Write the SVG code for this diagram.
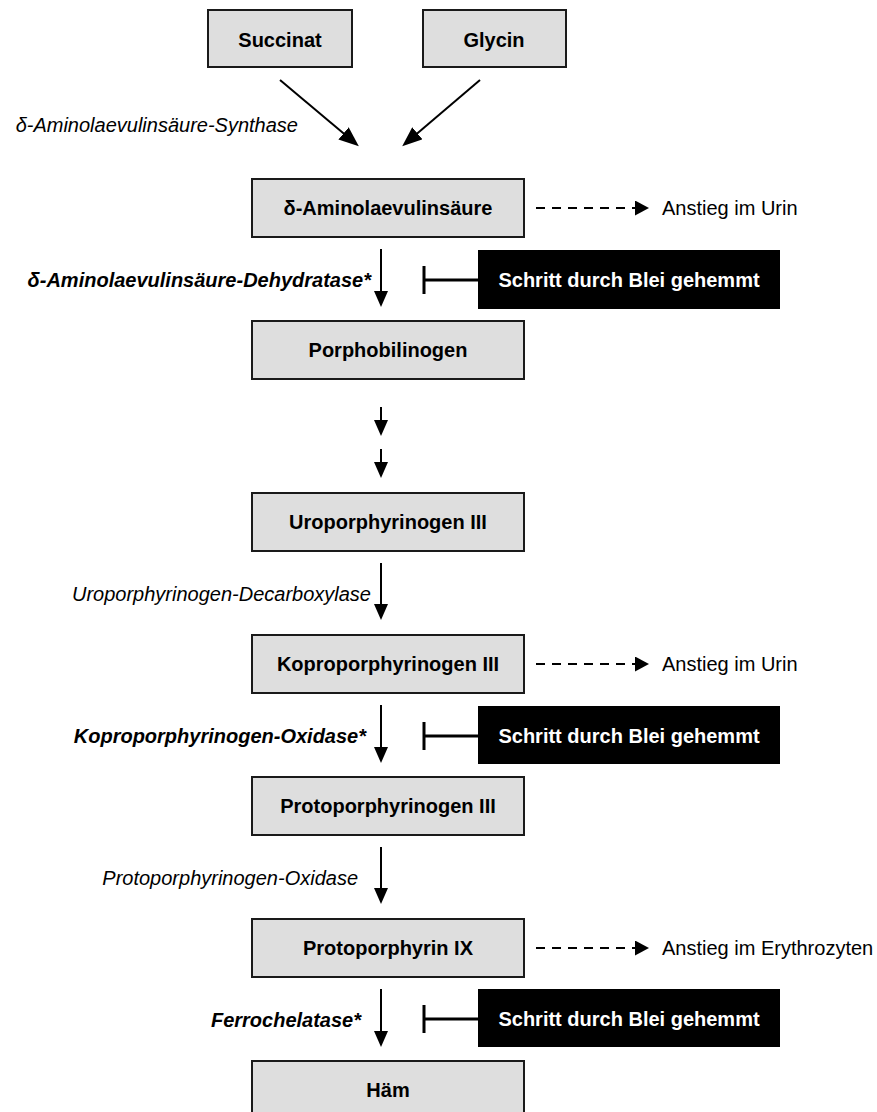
<svg xmlns="http://www.w3.org/2000/svg" width="877" height="1112" viewBox="0 0 877 1112">
<defs>
<style>
.box{fill:#dedede;stroke:#1a1a1a;stroke-width:2}
.blk{fill:#000}
.bt{font-family:"Liberation Sans",Arial,sans-serif;font-size:20px;font-weight:bold;fill:#000;text-anchor:middle}
.wt{font-family:"Liberation Sans",Arial,sans-serif;font-size:20px;font-weight:bold;fill:#fff;text-anchor:middle}
.lab{font-family:"Liberation Sans",Arial,sans-serif;font-size:20px;font-style:italic;fill:#000;text-anchor:end}
.labb{font-family:"Liberation Sans",Arial,sans-serif;font-size:20px;font-style:italic;font-weight:bold;fill:#000;text-anchor:end}
.note{font-family:"Liberation Sans",Arial,sans-serif;font-size:20px;fill:#000}
.ln{stroke:#000;stroke-width:2;fill:none}
.dash{stroke:#000;stroke-width:2;fill:none;stroke-dasharray:9 7}
.inh{stroke:#000;stroke-width:3;fill:none}
</style>
<marker id="ah" markerUnits="userSpaceOnUse" markerWidth="16" markerHeight="14" refX="11" refY="7" orient="auto" viewBox="0 0 16 14">
<path d="M0,0 L16,7 L0,14 z" fill="#000"/>
</marker>
<marker id="ahd" markerUnits="userSpaceOnUse" markerWidth="20" markerHeight="16" refX="15" refY="8" orient="auto" viewBox="0 0 20 16">
<path d="M0,0 L20,8 L0,16 z" fill="#000"/>
</marker>
<marker id="ahs" markerUnits="userSpaceOnUse" markerWidth="14" markerHeight="15" refX="9" refY="7.5" orient="auto" viewBox="0 0 14 15">
<path d="M0,0 L14,7.5 L0,15 z" fill="#000"/>
</marker>
</defs>

<g id="connectors">
<line class="ln" x1="280" y1="80" x2="355" y2="143" marker-end="url(#ahd)"/>
<line class="ln" x1="480" y1="80" x2="406" y2="143" marker-end="url(#ahd)"/>
<line class="ln" x1="381" y1="249" x2="381" y2="302" marker-end="url(#ah)"/>
<line class="ln" x1="381" y1="407" x2="381" y2="431" marker-end="url(#ah)"/>
<line class="ln" x1="381" y1="449" x2="381" y2="473" marker-end="url(#ah)"/>
<line class="ln" x1="381" y1="563" x2="381" y2="615" marker-end="url(#ah)"/>
<line class="ln" x1="381" y1="705" x2="381" y2="758" marker-end="url(#ah)"/>
<line class="ln" x1="381" y1="847" x2="381" y2="899" marker-end="url(#ah)"/>
<line class="ln" x1="381" y1="989" x2="381" y2="1042" marker-end="url(#ah)"/>
<line class="dash" x1="536" y1="208" x2="644" y2="208" marker-end="url(#ahs)"/>
<line class="dash" x1="536" y1="664" x2="644" y2="664" marker-end="url(#ahs)"/>
<line class="dash" x1="536" y1="948" x2="644" y2="948" marker-end="url(#ahs)"/>
<path class="inh" d="M424,266 V294 M424,280 H478"/>
<path class="inh" d="M424,722 V750 M424,736 H478"/>
<path class="inh" d="M424,1005 V1033 M424,1019 H478"/>
</g>

<g id="n-succinat"><rect class="box" x="208" y="10" width="144" height="57"/><text class="bt" x="280" y="47">Succinat</text></g>
<g id="n-glycin"><rect class="box" x="423" y="10" width="143" height="57"/><text class="bt" x="494" y="47">Glycin</text></g>
<g id="l-synthase"><text class="lab" x="298" y="132">δ-Aminolaevulinsäure-Synthase</text></g>

<g id="n-ala"><rect class="box" x="252" y="179" width="272" height="58"/><text class="bt" x="388" y="215">δ-Aminolaevulinsäure</text></g>
<g id="u1"><text class="note" x="662" y="215">Anstieg im Urin</text></g>
<g id="l-dehydratase"><text class="labb" x="371" y="287">δ-Aminolaevulinsäure-Dehydratase*</text></g>
<g id="b1"><rect class="blk" x="478" y="250" width="302" height="59"/><text class="wt" x="629" y="287">Schritt durch Blei gehemmt</text></g>

<g id="n-pbg"><rect class="box" x="252" y="321" width="272" height="58"/><text class="bt" x="388" y="357">Porphobilinogen</text></g>

<g id="n-uro"><rect class="box" x="252" y="493" width="272" height="58"/><text class="bt" x="388" y="529">Uroporphyrinogen III</text></g>
<g id="l-decarb"><text class="lab" x="371" y="601">Uroporphyrinogen-Decarboxylase</text></g>

<g id="n-kopro"><rect class="box" x="252" y="635" width="272" height="58"/><text class="bt" x="388" y="671">Koproporphyrinogen III</text></g>
<g id="u2"><text class="note" x="662" y="671">Anstieg im Urin</text></g>
<g id="l-kox"><text class="labb" x="366" y="743">Koproporphyrinogen-Oxidase*</text></g>
<g id="b2"><rect class="blk" x="478" y="706" width="302" height="58"/><text class="wt" x="629" y="743">Schritt durch Blei gehemmt</text></g>

<g id="n-protogen"><rect class="box" x="252" y="777" width="272" height="58"/><text class="bt" x="388" y="813">Protoporphyrinogen III</text></g>
<g id="l-pox"><text class="lab" x="358" y="885">Protoporphyrinogen-Oxidase</text></g>

<g id="n-proto"><rect class="box" x="252" y="919" width="272" height="58"/><text class="bt" x="388" y="955">Protoporphyrin IX</text></g>
<g id="u3"><text class="note" x="662" y="955">Anstieg im Erythrozyten</text></g>
<g id="l-ferro"><text class="labb" x="361" y="1027">Ferrochelatase*</text></g>
<g id="b3"><rect class="blk" x="478" y="989" width="302" height="58"/><text class="wt" x="629" y="1026">Schritt durch Blei gehemmt</text></g>

<g id="n-haem"><rect class="box" x="252" y="1061" width="272" height="58"/><text class="bt" x="388" y="1097">Häm</text></g>
</svg>
